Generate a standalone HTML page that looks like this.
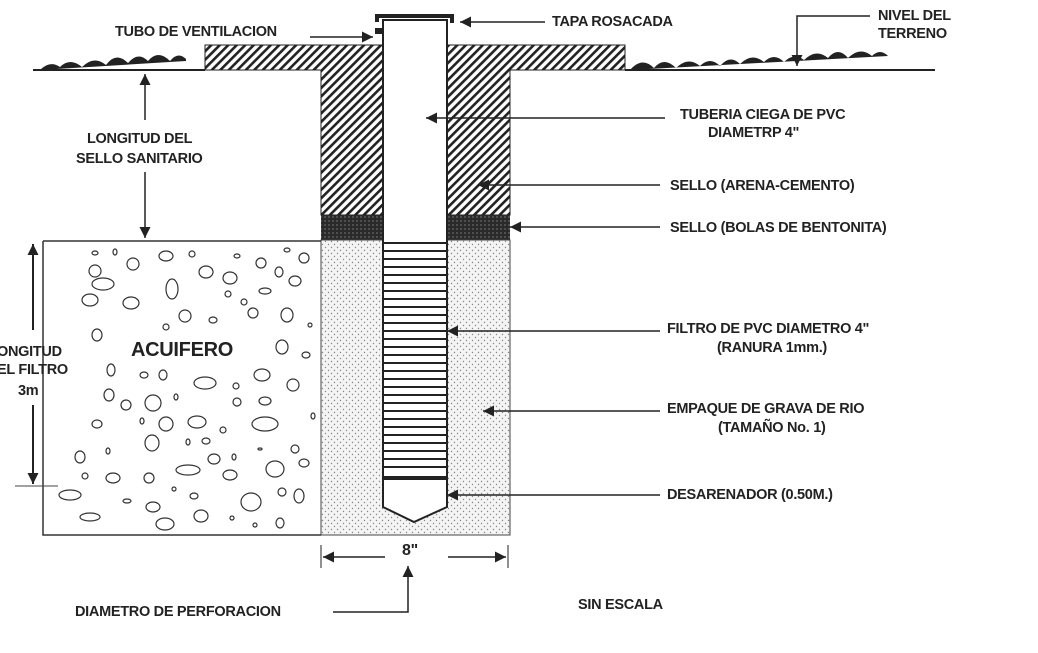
<!DOCTYPE html>
<html><head><meta charset="utf-8"><style>
html,body{margin:0;padding:0;background:#fff}
svg{display:block}
text{font-family:"Liberation Sans",sans-serif;fill:#222;font-size:14.5px;font-weight:bold;letter-spacing:-0.3px}
</style></head><body>
<svg width="1038" height="653" viewBox="0 0 1038 653" xmlns="http://www.w3.org/2000/svg">
<defs>
<pattern id="h" width="6" height="6" patternUnits="userSpaceOnUse" patternTransform="rotate(45)">
<rect width="6" height="6" fill="#fff"/><rect width="2.6" height="6" fill="#222"/></pattern>
<pattern id="d" width="6" height="6" patternUnits="userSpaceOnUse">
<rect width="6" height="6" fill="#f4f4f4"/><circle cx="1.5" cy="1.5" r="0.7" fill="#888"/><circle cx="4.5" cy="4.5" r="0.7" fill="#888"/></pattern>
<pattern id="b" width="4" height="4" patternUnits="userSpaceOnUse">
<rect width="4" height="4" fill="#2a2a2a"/><circle cx="1" cy="1" r="0.6" fill="#aaa"/></pattern>
<marker id="a" viewBox="0 0 10 10" refX="10" refY="5" markerUnits="userSpaceOnUse" markerWidth="13" markerHeight="11" orient="auto-start-reverse"><path d="M0,0L10,5L0,10z" fill="#222"/></marker>
</defs>
<!-- ground -->
<line x1="33" y1="70" x2="205" y2="70" stroke="#222" stroke-width="2"/>
<path d="M40,70 q10,-10 20,-3 q10,-10 22,0 q12,-12 24,-2 q10,-14 22,-2 q10,-12 20,-2 q10,-12 22,0 q8,-10 16,-2 l0,2z" fill="#222"/>
<line x1="625" y1="70" x2="935" y2="70" stroke="#222" stroke-width="2"/>
<path d="M630,70 q12,-14 24,-2 q10,-12 22,0 q12,-12 24,-2 q10,-10 20,0 q10,-12 20,-2 q12,-12 24,-2 q10,-10 20,0 q10,-10 20,-2 q12,-12 24,-2 q10,-12 20,0 q12,-12 24,-2 q8,-8 16,0 z" fill="#222"/>
<!-- seal -->
<path d="M205,45 H383 V215 H321 V70 H205z" fill="url(#h)" stroke="#222"/>
<path d="M447,45 H625 V70 H510 V215 H447z" fill="url(#h)" stroke="#222"/>
<rect x="321" y="215" width="62" height="25" fill="url(#b)"/>
<rect x="447" y="215" width="63" height="25" fill="url(#b)"/>
<rect x="321" y="240" width="189" height="295" fill="url(#d)" stroke="#444"/>
<!-- pipe -->
<rect x="383" y="20" width="64" height="223" fill="#fff" stroke="#222" stroke-width="2"/>
<path d="M377,22 V16 H452 V23" fill="none" stroke="#222" stroke-width="4"/>
<rect x="375" y="28" width="7" height="6" fill="#222"/>
<rect x="383" y="243" width="64" height="234" fill="#fff" stroke="#222" stroke-width="2"/>
<g stroke="#222" stroke-width="2">
<line x1="384" y1="251" x2="446" y2="251"/><line x1="384" y1="259" x2="446" y2="259"/><line x1="384" y1="267" x2="446" y2="267"/><line x1="384" y1="275" x2="446" y2="275"/><line x1="384" y1="283" x2="446" y2="283"/><line x1="384" y1="291" x2="446" y2="291"/><line x1="384" y1="299" x2="446" y2="299"/><line x1="384" y1="307" x2="446" y2="307"/><line x1="384" y1="315" x2="446" y2="315"/><line x1="384" y1="323" x2="446" y2="323"/><line x1="384" y1="331" x2="446" y2="331"/><line x1="384" y1="339" x2="446" y2="339"/><line x1="384" y1="347" x2="446" y2="347"/><line x1="384" y1="355" x2="446" y2="355"/><line x1="384" y1="363" x2="446" y2="363"/><line x1="384" y1="371" x2="446" y2="371"/><line x1="384" y1="379" x2="446" y2="379"/><line x1="384" y1="387" x2="446" y2="387"/><line x1="384" y1="395" x2="446" y2="395"/><line x1="384" y1="403" x2="446" y2="403"/><line x1="384" y1="411" x2="446" y2="411"/><line x1="384" y1="419" x2="446" y2="419"/><line x1="384" y1="427" x2="446" y2="427"/><line x1="384" y1="435" x2="446" y2="435"/><line x1="384" y1="443" x2="446" y2="443"/><line x1="384" y1="451" x2="446" y2="451"/><line x1="384" y1="459" x2="446" y2="459"/><line x1="384" y1="467" x2="446" y2="467"/>
</g>
<path d="M383,477 V507 L414,522 L447,507 V477z" fill="#fff" stroke="#222" stroke-width="2"/>
<line x1="383" y1="478" x2="447" y2="478" stroke="#222" stroke-width="4"/>
<!-- aquifer -->
<path d="M43,241 H321 M43,241 V535 H321" fill="none" stroke="#333" stroke-width="1.5"/>
<g fill="none" stroke="#333" stroke-width="1.2">
<ellipse cx="95" cy="253" rx="3" ry="2"/><ellipse cx="115" cy="252" rx="2" ry="3"/><ellipse cx="166" cy="256" rx="7" ry="5"/><ellipse cx="192" cy="254" rx="3" ry="3"/><ellipse cx="237" cy="256" rx="3" ry="2"/><ellipse cx="287" cy="250" rx="3" ry="2"/><ellipse cx="304" cy="258" rx="5" ry="5"/>
<ellipse cx="133" cy="264" rx="6" ry="6"/><ellipse cx="261" cy="263" rx="5" ry="5"/><ellipse cx="95" cy="271" rx="6" ry="6"/><ellipse cx="206" cy="272" rx="7" ry="6"/><ellipse cx="230" cy="278" rx="7" ry="6"/><ellipse cx="279" cy="272" rx="4" ry="5"/><ellipse cx="295" cy="281" rx="6" ry="5"/>
<ellipse cx="103" cy="284" rx="11" ry="6"/><ellipse cx="172" cy="289" rx="6" ry="10"/><ellipse cx="265" cy="291" rx="6" ry="3"/><ellipse cx="90" cy="300" rx="8" ry="6"/><ellipse cx="131" cy="303" rx="8" ry="6"/><ellipse cx="228" cy="294" rx="3" ry="3"/><ellipse cx="244" cy="302" rx="3" ry="3"/>
<ellipse cx="185" cy="316" rx="6" ry="6"/><ellipse cx="213" cy="320" rx="4" ry="3"/><ellipse cx="253" cy="313" rx="5" ry="5"/><ellipse cx="287" cy="315" rx="6" ry="7"/><ellipse cx="166" cy="327" rx="3" ry="3"/><ellipse cx="97" cy="335" rx="5" ry="6"/><ellipse cx="310" cy="325" rx="2" ry="2"/>
<ellipse cx="282" cy="347" rx="6" ry="7"/><ellipse cx="306" cy="355" rx="4" ry="3"/><ellipse cx="111" cy="370" rx="4" ry="6"/><ellipse cx="144" cy="375" rx="4" ry="3"/><ellipse cx="163" cy="375" rx="4" ry="5"/><ellipse cx="205" cy="383" rx="11" ry="6"/><ellipse cx="262" cy="375" rx="8" ry="6"/><ellipse cx="293" cy="385" rx="6" ry="6"/><ellipse cx="236" cy="386" rx="3" ry="3"/>
<ellipse cx="109" cy="395" rx="5" ry="6"/><ellipse cx="126" cy="405" rx="5" ry="5"/><ellipse cx="153" cy="403" rx="8" ry="8"/><ellipse cx="176" cy="397" rx="2" ry="3"/><ellipse cx="237" cy="402" rx="4" ry="4"/><ellipse cx="265" cy="401" rx="6" ry="4"/>
<ellipse cx="97" cy="424" rx="5" ry="4"/><ellipse cx="142" cy="421" rx="2" ry="3"/><ellipse cx="166" cy="424" rx="7" ry="7"/><ellipse cx="197" cy="422" rx="9" ry="6"/><ellipse cx="223" cy="430" rx="3" ry="3"/><ellipse cx="265" cy="424" rx="13" ry="7"/><ellipse cx="313" cy="416" rx="2" ry="3"/>
<ellipse cx="152" cy="443" rx="7" ry="8"/><ellipse cx="188" cy="442" rx="2" ry="3"/><ellipse cx="206" cy="441" rx="4" ry="3"/><ellipse cx="260" cy="449" rx="2" ry="1"/><ellipse cx="295" cy="449" rx="4" ry="4"/><ellipse cx="80" cy="457" rx="5" ry="6"/><ellipse cx="108" cy="451" rx="2" ry="3"/>
<ellipse cx="214" cy="459" rx="6" ry="5"/><ellipse cx="234" cy="457" rx="2" ry="3"/><ellipse cx="188" cy="470" rx="12" ry="5"/><ellipse cx="275" cy="469" rx="9" ry="8"/><ellipse cx="304" cy="463" rx="5" ry="4"/><ellipse cx="85" cy="476" rx="3" ry="3"/><ellipse cx="113" cy="478" rx="7" ry="5"/><ellipse cx="149" cy="478" rx="5" ry="5"/><ellipse cx="230" cy="475" rx="7" ry="5"/>
<ellipse cx="70" cy="495" rx="11" ry="5"/><ellipse cx="174" cy="489" rx="2" ry="2"/><ellipse cx="194" cy="496" rx="4" ry="3"/><ellipse cx="251" cy="502" rx="10" ry="9"/><ellipse cx="282" cy="492" rx="4" ry="4"/><ellipse cx="299" cy="496" rx="5" ry="7"/><ellipse cx="127" cy="501" rx="4" ry="2"/><ellipse cx="153" cy="507" rx="7" ry="5"/>
<ellipse cx="90" cy="517" rx="10" ry="4"/><ellipse cx="201" cy="516" rx="7" ry="6"/><ellipse cx="232" cy="518" rx="2" ry="2"/><ellipse cx="255" cy="525" rx="2" ry="2"/><ellipse cx="280" cy="523" rx="4" ry="5"/><ellipse cx="165" cy="524" rx="9" ry="6"/>
</g>
<text x="131" y="356" font-size="20" style="font-size:20px">ACUIFERO</text>
<!-- left dimensions -->
<line x1="145" y1="120" x2="145" y2="74" stroke="#222" stroke-width="1.5" marker-end="url(#a)"/>
<line x1="145" y1="172" x2="145" y2="238" stroke="#222" stroke-width="1.5" marker-end="url(#a)"/>
<text x="87" y="143">LONGITUD DEL</text>
<text x="76" y="163">SELLO SANITARIO</text>
<line x1="33" y1="330" x2="33" y2="244" stroke="#222" stroke-width="2" marker-end="url(#a)"/>
<line x1="33" y1="405" x2="33" y2="484" stroke="#222" stroke-width="2" marker-end="url(#a)"/>
<line x1="15" y1="486" x2="58" y2="486" stroke="#444"/>
<text x="-3" y="356">ONGITUD</text>
<text x="-3" y="374">EL FILTRO</text>
<text x="18" y="395">3m</text>
<!-- bottom dims -->
<line x1="321" y1="545" x2="321" y2="568" stroke="#222"/>
<line x1="508" y1="545" x2="508" y2="568" stroke="#222"/>
<line x1="385" y1="557" x2="323" y2="557" stroke="#222" stroke-width="1.5" marker-end="url(#a)"/>
<line x1="448" y1="557" x2="506" y2="557" stroke="#222" stroke-width="1.5" marker-end="url(#a)"/>
<text x="402" y="555" style="font-size:16px">8"</text>
<path d="M333,612 H408 V566" fill="none" stroke="#222" stroke-width="1.5" marker-end="url(#a)"/>
<text x="75" y="616">DIAMETRO DE PERFORACION</text>
<text x="578" y="609">SIN ESCALA</text>
<!-- right labels -->
<text x="115" y="36">TUBO DE VENTILACION</text>
<line x1="310" y1="37" x2="373" y2="37" stroke="#222" stroke-width="1.5" marker-end="url(#a)"/>
<line x1="545" y1="22" x2="460" y2="22" stroke="#222" stroke-width="1.5" marker-end="url(#a)"/>
<text x="552" y="26">TAPA ROSACADA</text>
<text x="878" y="20">NIVEL DEL</text>
<text x="878" y="38">TERRENO</text>
<path d="M870,16 H797 V66" fill="none" stroke="#222" stroke-width="1.5" marker-end="url(#a)"/>
<line x1="665" y1="118" x2="426" y2="118" stroke="#222" stroke-width="1.5" marker-end="url(#a)"/>
<text x="680" y="119">TUBERIA CIEGA DE PVC</text>
<text x="708" y="137">DIAMETRP 4"</text>
<line x1="660" y1="185" x2="478" y2="185" stroke="#222" stroke-width="1.5" marker-end="url(#a)"/>
<text x="670" y="190">SELLO (ARENA-CEMENTO)</text>
<line x1="660" y1="227" x2="510" y2="227" stroke="#222" stroke-width="1.5" marker-end="url(#a)"/>
<text x="670" y="232">SELLO (BOLAS DE BENTONITA)</text>
<line x1="660" y1="331" x2="447" y2="331" stroke="#222" stroke-width="1.5" marker-end="url(#a)"/>
<text x="667" y="333">FILTRO DE PVC DIAMETRO 4"</text>
<text x="717" y="352">(RANURA 1mm.)</text>
<line x1="660" y1="411" x2="483" y2="411" stroke="#222" stroke-width="1.5" marker-end="url(#a)"/>
<text x="667" y="413">EMPAQUE DE GRAVA DE RIO</text>
<text x="718" y="432">(TAMAÑO No. 1)</text>
<line x1="660" y1="495" x2="447" y2="495" stroke="#222" stroke-width="1.5" marker-end="url(#a)"/>
<text x="667" y="499">DESARENADOR (0.50M.)</text>
</svg>
</body></html>
